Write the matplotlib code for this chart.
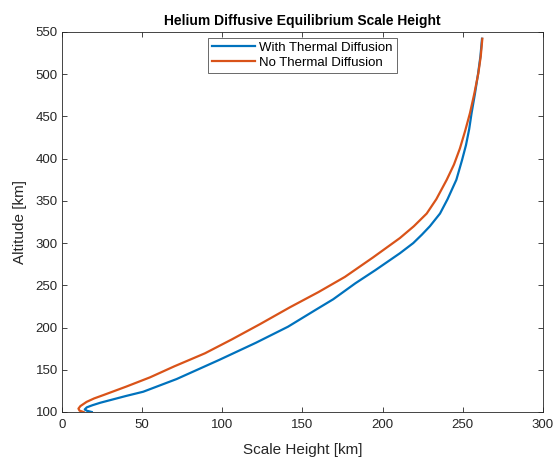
import numpy as np
import matplotlib
matplotlib.use("Agg")
import matplotlib.pyplot as plt

plt.rcParams['font.family'] = ['Liberation Sans', 'DejaVu Sans']

# Scale height [km] vs altitude [km]
with_td_x = [18.6, 15.5, 14.2, 15.5, 19.0, 24.0, 30.0, 40.0, 50.7, 71.5, 98.0,
             121.0, 141.0, 158.8, 169.2, 183.0, 195.5, 210.8, 219.1, 224.5,
             229.5, 235.8, 240.5, 246.0, 249.5, 252.0, 254.0, 255.5, 257.6,
             259.5, 261.0, 262.0]
with_td_alt = [100, 101.5, 103, 105.5, 108, 111, 114, 119, 124, 139, 161.6,
               182, 201, 221.6, 233.5, 252.4, 268, 288, 300, 310,
               320, 335, 352, 375, 398, 416, 435, 454, 477,
               500, 521, 542]

no_td_x = [13.5, 11.0, 10.3, 11.5, 15.4, 20.0, 25.8, 40.0, 54.9, 70.0, 89.2,
           106.0, 123.5, 142.2, 160.0, 176.5, 194.0, 210.8, 219.5, 227.5,
           233.5, 240.0, 244.5, 248.2, 251.5, 254.5, 257.2, 259.7, 261.2, 262.2]
no_td_alt = [100, 101.5, 104, 107, 112, 116, 120, 130, 141, 154, 169.5,
             186, 204, 224, 242, 260, 283, 306, 320, 335,
             352, 375, 393, 412, 433, 454, 477, 501, 521, 542]

blue = '#0072BD'
orange = '#D95319'
axcol = '#262626'

fig = plt.figure(figsize=(5.58, 4.61), dpi=100)
ax = fig.add_axes([0.111, 0.1063, 0.862, 0.8243])

ax.plot(with_td_x, with_td_alt, color=blue, lw=1.6, solid_joinstyle='round',
        label='With Thermal Diffusion')
ax.plot(no_td_x, no_td_alt, color=orange, lw=1.6, solid_joinstyle='round',
        label='No Thermal Diffusion')

ax.set_xlim(0, 300)
ax.set_ylim(100, 550)
ax.set_xticks(np.arange(0, 301, 50))
ax.set_yticks(np.arange(100, 551, 50))
ax.tick_params(direction='in', length=3.5, width=0.6, colors=axcol,
               labelsize=9.5, top=True, right=True, labelcolor=axcol)
ax.tick_params(axis='x', pad=5)
ax.tick_params(axis='y', pad=3)
for s in ax.spines.values():
    s.set_color(axcol)
    s.set_linewidth(0.6)

ax.set_xlabel('Scale Height [km]', fontsize=11, color=axcol, labelpad=9)
ax.set_ylabel('Altitude [km]', fontsize=11, color=axcol, labelpad=6)
ax.set_title('Helium Diffusive Equilibrium Scale Height', fontsize=10,
             fontweight='bold', pad=5)

leg = ax.legend(loc='upper center', bbox_to_anchor=(0.5, 0.985), fontsize=9.5,
                frameon=True, fancybox=False, handlelength=3.3, handletextpad=0.3,
                borderpad=0.3, labelspacing=0.2, borderaxespad=0)
leg.get_frame().set_edgecolor(axcol)
leg.get_frame().set_linewidth(0.6)

fig.savefig('out.png', dpi=100)
